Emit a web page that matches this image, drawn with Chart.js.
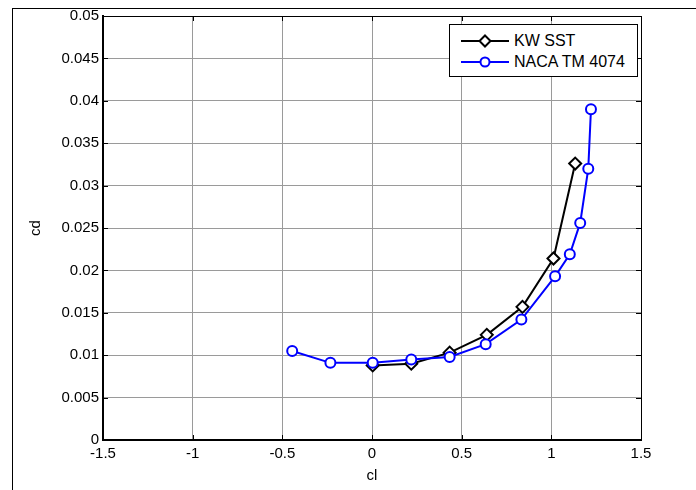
<!DOCTYPE html>
<html>
<head>
<meta charset="utf-8">
<script src="https://cdn.jsdelivr.net/npm/chart.js@4.4.0/dist/chart.umd.min.js"></script>
<style>
  html, body { margin: 0; padding: 0; background: #fff; }
  #wrap { position: relative; width: 696px; height: 490px; overflow: hidden; }
  #frame { position: absolute; left: 12px; top: 8px; width: 800px; height: 600px;
           border-left: 1px solid #000; border-top: 1px solid #000; pointer-events: none; }
  #legend { position: absolute; left: 449px; top: 24px; width: 187px; height: 51px;
            border: 1px solid #000; background: #fff;
            font-family: "Liberation Sans", Arial, sans-serif; font-size: 16px; color: #000; }
  .row { position: absolute; left: 0; height: 20px; line-height: 20px; white-space: nowrap; }
  .row svg { position: absolute; left: 10px; top: 3px; }
  .row span { position: absolute; left: 64px; top: 0; }
</style>
</head>
<body>
<div id="wrap">
  <canvas id="polarChart" width="696" height="490"></canvas>
  <div id="frame"></div>
  <div id="legend"></div>
</div>
<script>
// drag polar: cd against cl
const clKW = [0.004, 0.219, 0.433, 0.640, 0.839, 1.012, 1.133];
const cdKW = [0.0088, 0.0090, 0.0103, 0.0124, 0.0157, 0.0214, 0.0326];

const clNACA = [-0.445, -0.232, 0.004, 0.219, 0.433, 0.634, 0.833, 1.021, 1.103, 1.161, 1.206, 1.221];
const cdNACA = [0.0105, 0.0091, 0.0091, 0.0095, 0.0098, 0.0113, 0.0142, 0.0193, 0.0219, 0.0256, 0.0320, 0.0390];

const xTicks = [-1.5, -1, -0.5, 0, 0.5, 1, 1.5];
const yTicks = [0, 0.005, 0.01, 0.015, 0.02, 0.025, 0.03, 0.035, 0.04, 0.045, 0.05];

const seriesNames = ['KW SST', 'NACA TM 4074'];

function toPoints(xs, ys) {
    return xs.map((v, i) => ({ x: v, y: ys[i] }));
}

function fmt(v) {
    return String(parseFloat(v.toFixed(4)));
}

// top/right box lines and inward tick marks like the MATLAB axes
const axesBox = {
    id: 'axesBox',
    afterDraw(chart) {
        const { ctx, chartArea: a, scales: { x, y } } = chart;
        ctx.save();
        ctx.strokeStyle = '#000';
        ctx.lineWidth = 1;
        ctx.beginPath();
        ctx.moveTo(a.left, a.top + 0.5);
        ctx.lineTo(a.right + 0.5, a.top + 0.5);
        ctx.lineTo(a.right + 0.5, a.bottom);
        x.ticks.forEach(t => {
            const px = Math.round(x.getPixelForValue(t.value)) + 0.5;
            ctx.moveTo(px, a.bottom);
            ctx.lineTo(px, a.bottom - 5);
            ctx.moveTo(px, a.top);
            ctx.lineTo(px, a.top + 5);
        });
        y.ticks.forEach(t => {
            const py = Math.round(y.getPixelForValue(t.value)) + 0.5;
            ctx.moveTo(a.left, py);
            ctx.lineTo(a.left + 5, py);
            ctx.moveTo(a.right, py);
            ctx.lineTo(a.right - 5, py);
        });
        ctx.stroke();
        ctx.restore();
    }
};

function createChart() {
    const ctx = document.getElementById('polarChart').getContext('2d');
    Chart.defaults.font.family = '"Liberation Sans", Arial, sans-serif';
    Chart.defaults.font.size = 15;
    Chart.defaults.color = '#000';

    return new Chart(ctx, {
        type: 'scatter',
        data: {
            datasets: [{
                label: seriesNames[0],
                data: toPoints(clKW, cdKW),
                showLine: true,
                borderColor: '#000',
                borderWidth: 2,
                pointStyle: 'rectRot',
                pointRadius: 6,
                pointBorderWidth: 2,
                pointBorderColor: '#000',
                pointBackgroundColor: '#fff',
                order: 1
            }, {
                label: seriesNames[1],
                data: toPoints(clNACA, cdNACA),
                showLine: true,
                borderColor: '#0000ff',
                borderWidth: 2,
                pointStyle: 'circle',
                pointRadius: 5,
                pointBorderWidth: 2,
                pointBorderColor: '#0000ff',
                pointBackgroundColor: '#fff',
                order: 0
            }]
        },
        options: {
            responsive: false,
            animation: false,
            devicePixelRatio: 1,
            layout: { padding: { left: 0, top: 16, right: 55, bottom: 0 } },
            plugins: {
                legend: { display: false },
                tooltip: { enabled: false }
            },
            scales: {
                x: {
                    type: 'linear',
                    min: xTicks[0],
                    max: xTicks[xTicks.length - 1],
                    afterBuildTicks: s => { s.ticks = xTicks.map(v => ({ value: v })); },
                    afterFit: s => { s.height = 50; },
                    ticks: { padding: 5, callback: v => fmt(v) },
                    grid: { color: '#9a9a9a', lineWidth: 1, drawTicks: false },
                    border: { display: true, color: '#000', width: 2 },
                    title: { display: true, text: 'cl', padding: { top: 0, bottom: 5 } }
                },
                y: {
                    type: 'linear',
                    min: yTicks[0],
                    max: yTicks[yTicks.length - 1],
                    afterBuildTicks: s => { s.ticks = yTicks.map(v => ({ value: v })); },
                    afterFit: s => { s.width = 103; },
                    ticks: { padding: 4, callback: v => fmt(v) },
                    grid: { color: '#9a9a9a', lineWidth: 1, drawTicks: false },
                    border: { display: true, color: '#000', width: 2 },
                    title: { display: true, text: 'cd', padding: { top: 27, bottom: 0 } }
                }
            }
        },
        plugins: [axesBox]
    });
}

// legend box drawn in html, styles taken from the datasets
function buildLegend(chart) {
    const box = document.getElementById('legend');
    chart.data.datasets.forEach((ds, i) => {
        const row = document.createElement('div');
        row.className = 'row';
        row.style.top = (6 + i * 21) + 'px';
        let marker;
        if (ds.pointStyle === 'rectRot') {
            marker = '<polygon points="25,1.5 30.5,7 25,12.5 19.5,7" fill="#fff" stroke="' + ds.borderColor + '" stroke-width="2"/>';
        } else {
            marker = '<circle cx="25" cy="7" r="4.5" fill="#fff" stroke="' + ds.borderColor + '" stroke-width="2"/>';
        }
        row.innerHTML = '<svg width="50" height="14"><line x1="1" y1="7" x2="49" y2="7" stroke="' +
            ds.borderColor + '" stroke-width="2"/>' + marker + '</svg><span>' + ds.label + '</span>';
        box.appendChild(row);
    });
}

const chart = createChart();
buildLegend(chart);
</script>
</body>
</html>
